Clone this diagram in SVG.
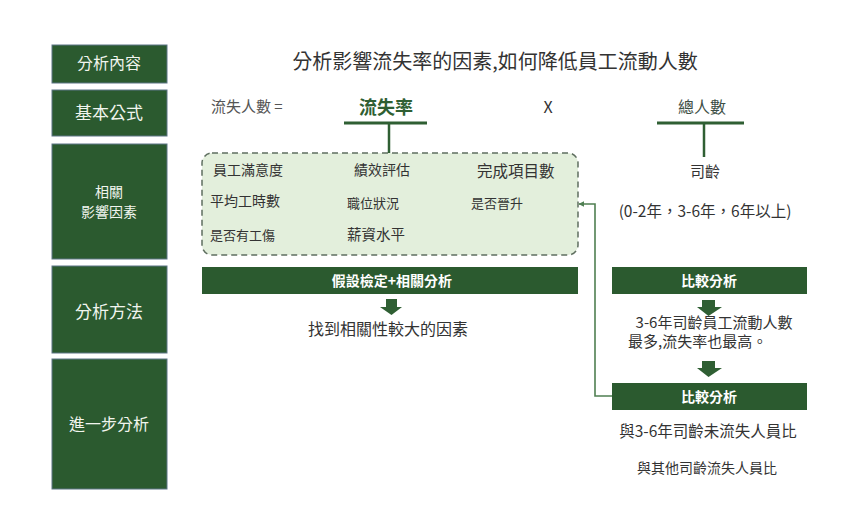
<svg xmlns="http://www.w3.org/2000/svg" width="866" height="520" viewBox="0 0 866 520">
<defs>
<style>
text{font-family:"Noto Sans CJK TC","Noto Sans CJK SC",sans-serif;}
.side{fill:#2b5a2f;stroke:#5d7585;stroke-width:1;}
.sidet{fill:#f1f5ee;text-anchor:middle;}
.bar{fill:#2b5a2f;}
.bart{fill:#ffffff;font-weight:bold;font-size:14px;text-anchor:middle;}
.t{fill:#333333;}
.c{text-anchor:middle;}
.ln{stroke:#2f5f33;stroke-width:3;fill:none;}
.lnv{stroke:#2f5f33;stroke-width:2.5;fill:none;}
.conn{stroke:#4f7f52;stroke-width:1.6;fill:none;}
.arr{fill:#2f5f33;}
</style>
<marker id="ah" viewBox="0 0 10 10" refX="9" refY="5" markerWidth="6" markerHeight="6" orient="auto" markerUnits="userSpaceOnUse">
<path d="M0,0 L10,5 L0,10 z" fill="#4f7f52"/>
</marker>
</defs>
<rect width="866" height="520" fill="#ffffff"/>

<g id="side-content">
<rect class="side" x="52" y="45" width="115" height="38"/>
<text class="sidet" x="109" y="69" font-size="16">分析內容</text>
</g>
<g id="side-formula">
<rect class="side" x="52" y="90" width="115" height="46"/>
<text class="sidet" x="109" y="119" font-size="17">基本公式</text>
</g>
<g id="side-factors">
<rect class="side" x="52" y="144" width="115" height="115"/>
<text class="sidet" x="109" y="197" font-size="14">相關</text>
<text class="sidet" x="109" y="217" font-size="14">影響因素</text>
</g>
<g id="side-method">
<rect class="side" x="52" y="266" width="115" height="87"/>
<text class="sidet" x="109" y="318" font-size="17">分析方法</text>
</g>
<g id="side-further">
<rect class="side" x="52" y="359" width="115" height="130"/>
<text class="sidet" x="109" y="430" font-size="16">進一步分析</text>
</g>

<g id="title">
<text class="t c" x="495" y="69" font-size="20" fill="#222222">分析影響流失率的因素,如何降低員工流動人數</text>
</g>

<g id="formula">
<text x="211" y="112" font-size="15" fill="#555555">流失人數 =</text>
<text x="386" y="114" font-size="18" font-weight="bold" fill="#2f5f33" text-anchor="middle">流失率</text>
<text x="548" y="113" font-size="16" fill="#333333" text-anchor="middle">X</text>
<text x="702" y="113" font-size="16" fill="#3d4f45" text-anchor="middle">總人數</text>
</g>

<g id="factors-box">
<rect x="202" y="153" width="376" height="102" rx="10" ry="10" fill="#e3efdc" stroke="#5f6f60" stroke-width="1.5" stroke-dasharray="6,4"/>
<text class="t" x="213" y="175" font-size="14">員工滿意度</text>
<text class="t" x="354" y="175" font-size="14">績效評估</text>
<text class="t" x="477" y="177" font-size="15.5">完成項目數</text>
<text class="t" x="210" y="206" font-size="14">平均工時數</text>
<text class="t" x="347" y="208" font-size="13">職位狀況</text>
<text class="t" x="471" y="208" font-size="13">是否晉升</text>
<text class="t" x="210" y="240" font-size="13">是否有工傷</text>
<text class="t" x="347" y="240" font-size="14.5">薪資水平</text>
</g>

<g id="seniority">
<text class="t c" x="705" y="177" font-size="15">司齡</text>
<text class="t c" x="705" y="217" font-size="15.5">(0-2年，3-6年，6年以上)</text>
</g>

<g id="method-bar">
<rect class="bar" x="202" y="267" width="376" height="27"/>
<text class="bart" x="392" y="286">假設檢定+相關分析</text>
</g>
<g id="method-result">
<text class="t c" x="388" y="335" font-size="16">找到相關性較大的因素</text>
</g>

<g id="compare1">
<rect class="bar" x="612" y="267" width="195" height="27"/>
<text class="bart" x="709" y="286" font-size="13">比較分析</text>
</g>
<g id="compare1-result">
<text class="t c" x="714" y="328" font-size="15">3-6年司齡員工流動人數</text>
<text class="t" x="628" y="347" font-size="15">最多,流失率也最高。</text>
</g>
<g id="compare2">
<rect class="bar" x="612" y="383" width="195" height="27"/>
<text class="bart" x="709" y="402" font-size="13">比較分析</text>
</g>
<g id="compare2-results">
<text class="t c" x="708" y="437" font-size="15.5">與3-6年司齡未流失人員比</text>
<text class="t c" x="707" y="473" font-size="14">與其他司齡流失人員比</text>
</g>

<g id="connectors">
<line class="ln" x1="344" y1="123" x2="427" y2="123"/>
<line class="lnv" x1="389" y1="123" x2="389" y2="153"/>
<line class="ln" x1="657" y1="123" x2="744" y2="123"/>
<line class="lnv" x1="704" y1="123" x2="704" y2="157"/>
<path class="arr" d="M386,299 H397 V307 H402 L391.5,315 L380,307 H386 Z"/>
<path class="arr" d="M702,300 H715 V307 H722 L708.5,316 L697,307 H702 Z"/>
<path class="arr" d="M702,361 H715 V368 H722 L708.5,377 L697,368 H702 Z"/>
<path class="conn" d="M612,396 H595 V204 H579" marker-end="url(#ah)"/>
</g>
</svg>
